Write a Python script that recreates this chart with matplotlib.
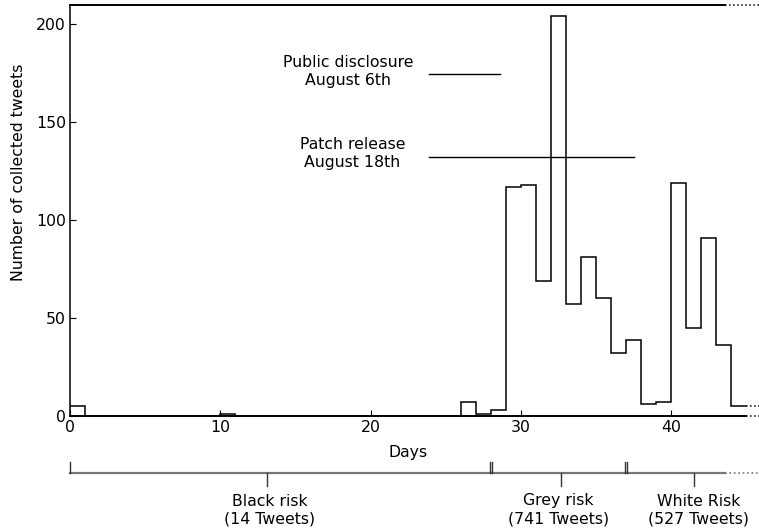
import matplotlib
matplotlib.use('Agg')
import matplotlib.pyplot as plt
import matplotlib.transforms as mtransforms
import numpy as np

# tweets per day (day 0 .. day 44)
days = np.arange(0, 46)
tweets = [5, 0, 0, 0, 0, 0, 0, 0, 0, 0,
          1, 0, 0, 0, 0, 0, 0, 0, 0, 0,
          0, 0, 0, 0, 0, 0, 7, 1, 3, 117,
          118, 69, 204, 57, 81, 60, 32, 39, 6, 7,
          119, 45, 91, 36, 5]

x_ticks = [0, 10, 20, 30, 40]
y_ticks = [0, 50, 100, 150, 200]

# risk periods
risk_bounds = [0, 28, 37]
risk_mid = [13.1, 32.7, 41.5]
risk_labels = ['Black risk\n(14 Tweets)', 'Grey risk\n(741 Tweets)', 'White Risk\n(527 Tweets)']
risk_label_x = [13.3, 32.5, 41.8]

events = ['Public disclosure\nAugust 6th', 'Patch release\nAugust 18th']
event_text_x = [18.5, 18.8]
event_text_y = [175.7, 134.0]
event_line_y = [174.8, 132.0]
event_line_x0 = [23.9, 23.9]
event_line_x1 = [28.6, 37.5]

fs = 11.3
plt.rcParams['font.family'] = 'DejaVu Sans'

fig = plt.figure(figsize=(7.59, 5.31), dpi=100)
ax = fig.add_axes([70 / 759, 1 - 416 / 531, 689 / 759, (416 - 4.7) / 531])

xmax = 689 / 15.03
ax.set_xlim(0, xmax)
ax.set_ylim(0, 210)

for s in ['top', 'right', 'bottom']:
    ax.spines[s].set_visible(False)
ax.spines['left'].set_linewidth(1.1)

ax.stairs(tweets, days, baseline=None, color='black', linewidth=1.1)
ax.plot([45, xmax], [tweets[-1], tweets[-1]], color='black', linewidth=1.1, linestyle=':', clip_on=False)

# bottom axis line and top frame line
ax.plot([0, 45], [0, 0], color='black', linewidth=1.4, clip_on=False)
ax.plot([45, xmax], [0, 0], color='black', linewidth=1.1, linestyle=':', clip_on=False)
ax.plot([0, 43.6], [210, 210], color='black', linewidth=1.4, clip_on=False)
ax.plot([43.6, xmax], [210, 210], color='black', linewidth=1.1, linestyle=':', clip_on=False)

ax.set_xticks(x_ticks)
ax.set_yticks(y_ticks)
ax.tick_params(direction='in', length=4, width=0.8, labelsize=fs, pad=3)
ax.tick_params(axis='x', pad=3)

fig.text(19 / 759, 1 - 172 / 531, 'Number of collected tweets', rotation=90,
         ha='center', va='center', fontsize=fs)
trans = mtransforms.blended_transform_factory(ax.transData, fig.transFigure)
ax.text(22.5, 1 - 452 / 531, 'Days', ha='center', va='center', fontsize=fs, transform=trans)

# event annotations
for i in range(len(events)):
    ax.text(event_text_x[i], event_text_y[i], events[i], ha='center', va='center',
            fontsize=fs, linespacing=1.25)
    ax.plot([event_line_x0[i], event_line_x1[i]], [event_line_y[i], event_line_y[i]],
            color='black', linewidth=1.0)

# risk period bracket under the axis
yb = 1 - 473 / 531
ytop = 1 - 462 / 531
ybot = 1 - 486 / 531
ax.plot([0, 43.6], [yb, yb], color='#777777', linewidth=1.6, transform=trans, clip_on=False)
ax.plot([43.6, xmax], [yb, yb], color='#777777', linewidth=1.2, linestyle=':', transform=trans, clip_on=False)
ax.plot([0.02, 0.02], [yb, ytop], color='#333333', linewidth=1.0, transform=trans, clip_on=False)
for b in risk_bounds[1:]:
    for d in [-0.07, 0.07]:
        ax.plot([b + d, b + d], [yb, ytop], color='#333333', linewidth=1.0, transform=trans, clip_on=False)
for m in risk_mid:
    ax.plot([m, m], [yb, ybot], color='#333333', linewidth=1.0, transform=trans, clip_on=False)
for i in range(len(risk_labels)):
    ax.text(risk_label_x[i], 1 - 510 / 531, risk_labels[i], ha='center', va='center',
            fontsize=fs, linespacing=1.25, transform=trans)

plt.savefig('out.png', dpi=100)
plt.close()
